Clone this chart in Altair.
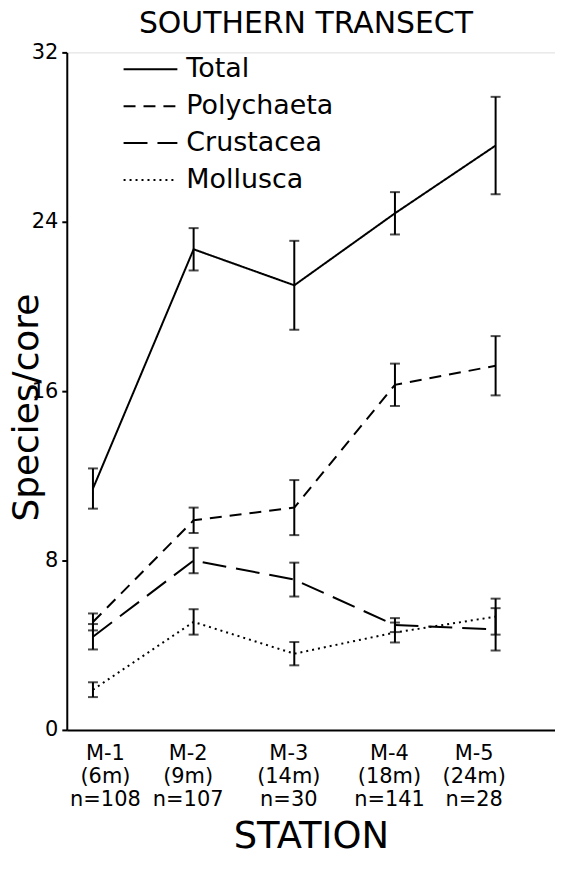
import json
import altair as alt
import pandas as pd

# ---- data ----
stations = ["M-1", "M-2", "M-3", "M-4", "M-5"]
depths = ["(6m)", "(9m)", "(14m)", "(18m)", "(24m)"]
ns = ["n=108", "n=107", "n=30", "n=141", "n=28"]
station_pos = [1, 2, 3, 4, 5]

series = ["Total", "Polychaeta", "Crustacea", "Mollusca"]
total_mean = [11.4, 22.7, 21.0, 24.4, 27.6]
total_err = [0.95, 1.0, 2.1, 1.0, 2.3]
poly_mean = [5.1, 9.9, 10.5, 16.3, 17.2]
poly_err = [0.4, 0.6, 1.3, 1.0, 1.4]
crus_mean = [4.4, 8.0, 7.1, 4.95, 4.75]
crus_err = [0.6, 0.6, 0.8, 0.33, 1.0]
moll_mean = [1.9, 5.1, 3.6, 4.6, 5.35]
moll_err = [0.35, 0.6, 0.55, 0.47, 0.85]
y_ticks = [0, 8, 16, 24, 32]

means = [total_mean, poly_mean, crus_mean, moll_mean]
errs = [total_err, poly_err, crus_err, moll_err]

rows = []
for s, m, e in zip(series, means, errs):
    for p, mv, ev in zip(station_pos, m, e):
        rows.append({"series": s, "pos": p, "mean": mv, "lo": mv - ev, "hi": mv + ev})
df = pd.DataFrame(rows)

FONT = "DejaVu Sans"
label_arrays = [[s, d, n] for s, d, n in zip(stations, depths, ns)]
label_expr = json.dumps(label_arrays).replace('"', "'") + "[datum.value - 1]"

x_enc = alt.X(
    "pos:Q",
    scale=alt.Scale(domain=[0.74, 5.59], nice=False, zero=False),
    axis=alt.Axis(
        values=station_pos, labelExpr=label_expr, title="STATION",
        ticks=False, grid=False, labelFontSize=21, labelLineHeight=23,
        labelPadding=13,
        labelOffset={"condition": [{"test": "datum.value == 1", "value": 12},
                                   {"test": "datum.value == 5", "value": -22}],
                     "value": -6},
        titleFontSize=37, titlePadding=9,
        labelFont=FONT, titleFont=FONT, titleFontWeight="normal",
        domainColor="black", domainWidth=2, labelColor="black", titleColor="black",
    ),
)
y_scale = alt.Scale(domain=[0, 32], nice=False)
y_axis = alt.Axis(
    values=y_ticks, title="Species/core", grid=False, tickSize=5, tickWidth=2,
    tickColor="black", labelFontSize=21, labelPadding=4, titleFontSize=36,
    labelFont=FONT, titleFont=FONT, titleFontWeight="normal", titlePadding=-14,
    titleY=356,
    domainColor="black", domainWidth=2, labelColor="black", titleColor="black",
)

base = alt.Chart(df)

lines = base.mark_line(color="black", strokeWidth=2).encode(
    x=x_enc,
    y=alt.Y("mean:Q", scale=y_scale, axis=y_axis),
    strokeDash=alt.StrokeDash(
        "series:N",
        scale=alt.Scale(domain=series, range=[[1, 0], [12, 8], [24, 10], [2, 4]]),
        legend=alt.Legend(
            orient="none", legendX=56, legendY=2, title=None,
            symbolType="stroke", symbolStrokeWidth=2, symbolSize=2916,
            symbolStrokeColor="black", labelFontSize=27, labelFont=FONT,
            labelColor="black", clipHeight=30, rowPadding=7, labelOffset=8,
        ),
    ),
)

bars = base.mark_rule(color="black", strokeWidth=2).encode(
    x="pos:Q", y="lo:Q", y2="hi:Q"
)
cap_lo = base.mark_tick(color="black", orient="horizontal", size=10, thickness=2).encode(
    x="pos:Q", y="lo:Q"
)
cap_hi = base.mark_tick(color="black", orient="horizontal", size=10, thickness=2).encode(
    x="pos:Q", y="hi:Q"
)

chart = (
    alt.layer(lines, bars, cap_lo, cap_hi)
    .properties(
        width=490, height=680,
        title=alt.TitleParams(
            "SOUTHERN TRANSECT", fontSize=30, font=FONT, fontWeight="normal",
            anchor="middle", offset=2, dx=-5, color="black",
        ),
    )
    .configure_view(stroke="transparent", strokeWidth=0)
    .configure(padding=0)
)

chart.save("out.html", embed_options={"renderer": "svg", "actions": False})
